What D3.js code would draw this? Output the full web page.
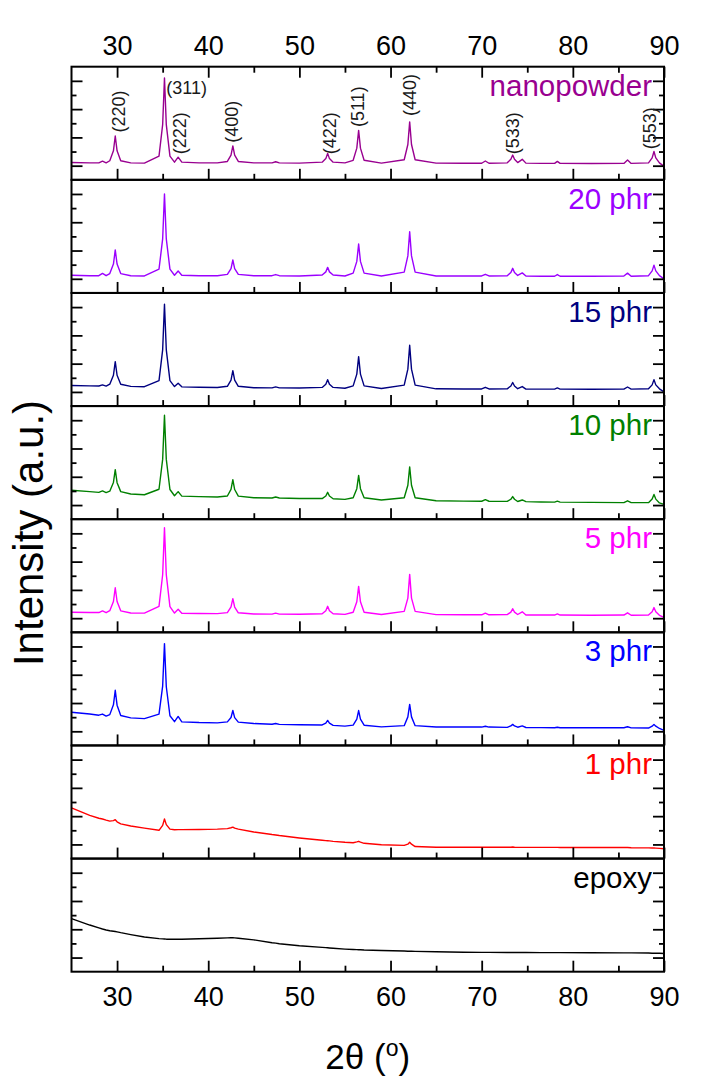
<!DOCTYPE html>
<html>
<head>
<meta charset="utf-8">
<script src="https://cdn.jsdelivr.net/npm/d3@7/dist/d3.min.js"></script>
<style>
  html, body { margin: 0; padding: 0; background: #fff; }
  svg { display: block; font-family: "Liberation Sans", Arial, sans-serif; }
</style>
</head>
<body>
<svg id="chart" width="710" height="1086"></svg>
<script>
// ---------------- DATA ----------------
const twoTheta = [25,27,28,28.4,28.8,29.2,29.6,29.8,30.0,30.4,31.5,33,34.6,35.0,35.2,35.4,35.8,36.3,36.7,37.1,39,41,42.1,42.5,42.7,42.9,43.3,45,47,47.4,47.8,50,52.5,52.9,53.1,53.3,53.7,55,55.9,56.3,56.5,56.7,57.1,59,61.5,61.9,62.1,62.3,62.7,65,68,70,70.4,70.8,72.8,73.2,73.4,73.6,73.95,74.45,74.85,76.5,78,78.3,78.6,82,85.6,86,86.4,88.3,88.7,88.9,89.1,89.5,90];

const nanopowder = [1.22,1.2,1.2,1.32,1.2,1.35,2.05,3.1,2.05,1.35, 1.2,1.18,1.68,3.9,7.2,3.9,1.68,1.25,1.6,1.25, 1.2,1.2,1.3,1.74,2.4,1.74,1.3,1.2,1.2,1.28, 1.2,1.18,1.25,1.5,1.87,1.5,1.25,1.2,1.38,2.24, 3.5,2.24,1.38,1.18,1.42,2.5,4.1,2.5,1.42,1.18, 1.17,1.17,1.33,1.17,1.2,1.45,1.75,1.45,1.22,1.45, 1.18,1.16,1.16,1.3,1.16,1.15,1.16,1.4,1.16,1.2, 1.55,2.0,1.55,1.2,0.95];
const phr20 = [1.25,1.22,1.22,1.38,1.22,1.37,2.04,3.04,2.04,1.37, 1.22,1.2,1.68,3.82,7.0,3.82,1.68,1.25,1.55,1.25, 1.22,1.22,1.31,1.72,2.33,1.72,1.31,1.22,1.22,1.3, 1.22,1.2,1.27,1.49,1.81,1.49,1.27,1.2,1.4,2.23, 3.46,2.23,1.4,1.2,1.47,2.62,4.33,2.62,1.47,1.2, 1.2,1.2,1.32,1.2,1.22,1.45,1.74,1.45,1.24,1.42, 1.2,1.18,1.18,1.3,1.18,1.18,1.2,1.4,1.18,1.22, 1.56,1.97,1.56,1.22,1.0];
const phr15 = [1.45,1.43,1.42,1.5,1.41,1.55,2.18,3.14,2.18,1.54, 1.39,1.37,1.8,3.98,7.2,3.98,1.8,1.38,1.62,1.36, 1.33,1.31,1.4,1.84,2.5,1.84,1.4,1.3,1.29,1.36, 1.29,1.28,1.32,1.54,1.87,1.54,1.32,1.26,1.43,2.26, 3.5,2.26,1.43,1.24,1.48,2.61,4.3,2.61,1.48,1.22, 1.21,1.21,1.33,1.21,1.22,1.42,1.67,1.42,1.23,1.38, 1.2,1.2,1.2,1.28,1.2,1.19,1.2,1.35,1.2,1.22, 1.5,1.87,1.5,1.22,1.0];
const phr10 = [2.05,1.95,1.9,2.0,1.88,1.98,2.6,3.5,2.58,1.95, 1.78,1.73,2.12,4.23,7.35,4.23,2.1,1.66,1.95,1.63, 1.6,1.57,1.64,2.11,2.8,2.1,1.63,1.52,1.5,1.57, 1.5,1.46,1.46,1.64,1.9,1.64,1.45,1.4,1.52,2.16, 3.1,2.16,1.52,1.36,1.52,2.4,3.7,2.4,1.52,1.3, 1.28,1.27,1.38,1.27,1.26,1.41,1.6,1.41,1.25,1.36, 1.24,1.22,1.21,1.28,1.21,1.19,1.17,1.3,1.17,1.17, 1.42,1.75,1.42,1.15,1.05];
const phr5 = [1.42,1.4,1.4,1.52,1.39,1.53,2.18,3.15,2.18,1.52, 1.37,1.36,1.83,4.07,7.4,4.07,1.82,1.36,1.63,1.35, 1.33,1.32,1.39,1.8,2.38,1.79,1.38,1.3,1.29,1.36, 1.29,1.28,1.31,1.53,1.84,1.53,1.31,1.27,1.42,2.16, 3.25,2.16,1.42,1.26,1.48,2.42,4.1,2.42,1.48,1.25, 1.24,1.24,1.36,1.24,1.25,1.43,1.67,1.43,1.26,1.45, 1.23,1.22,1.22,1.3,1.22,1.21,1.22,1.38,1.21,1.22, 1.46,1.75,1.46,1.2,1.05];
const phr3 = [2.35,2.22,2.14,2.22,2.08,2.18,2.87,3.9,2.85,2.12, 1.95,1.9,2.22,4.2,7.2,4.15,2.1,1.68,2.05,1.67, 1.62,1.6,1.67,1.98,2.47,1.97,1.65,1.55,1.5,1.55, 1.49,1.46,1.45,1.58,1.77,1.58,1.42,1.37,1.44,1.86, 2.47,1.86,1.43,1.31,1.4,2.02,2.9,2.02,1.4,1.3, 1.3,1.3,1.36,1.3,1.28,1.38,1.49,1.38,1.29,1.38, 1.27,1.26,1.25,1.29,1.25,1.25,1.25,1.32,1.24,1.23, 1.36,1.49,1.36,1.2,1.06];
const phr1 = [3.58,3.05,2.85,2.8,2.72,2.65,2.68,2.75,2.6,2.45, 2.3,2.15,2.0,2.35,2.8,2.4,2.08,2.04,2.05,2.05, 2.06,2.08,2.12,2.18,2.22,2.15,2.08,1.88,1.7,1.67, 1.63,1.46,1.3,1.27,1.26,1.25,1.22,1.15,1.12,1.18, 1.22,1.16,1.08,0.98,0.93,1.02,1.15,1.02,0.85,0.8, 0.8,0.8,0.8,0.8,0.8,0.8,0.82,0.8,0.79,0.79, 0.79,0.79,0.79,0.79,0.78,0.78,0.78,0.78,0.77,0.76, 0.75,0.75,0.74,0.72,0.69];
const epoxy = [3.75,3.3,3.1,3.02,2.95,2.9,2.86,2.84,2.82,2.76, 2.62,2.45,2.34,2.32,2.31,2.3,2.3,2.29,2.29,2.3, 2.33,2.37,2.39,2.4,2.4,2.39,2.37,2.25,2.05,2.02, 1.98,1.84,1.72,1.7,1.69,1.68,1.66,1.6,1.57,1.56, 1.55,1.55,1.53,1.5,1.46,1.45,1.45,1.45,1.44,1.41, 1.38,1.37,1.37,1.37,1.36,1.36,1.36,1.36,1.36,1.36, 1.36,1.35,1.35,1.35,1.35,1.34,1.33,1.33,1.33,1.32, 1.31,1.31,1.31,1.3,1.29];

const sampleNames = ["nanopowder", "20 phr", "15 phr", "10 phr", "5 phr", "3 phr", "1 phr", "epoxy"];
const sampleValues = [nanopowder, phr20, phr15, phr10, phr5, phr3, phr1, epoxy];

const xMajorTicks = [30, 40, 50, 60, 70, 80, 90];
const xMinorTicks = [35, 45, 55, 65, 75, 85];
const yMajorTicks = [1, 3, 5, 7];
const yMinorTicks = [2, 4, 6];

const hklText  = ["(220)", "(311)", "(222)", "(400)", "(422)", "(511)", "(440)", "(533)", "(553)"];
const hklTheta = [30.2, 35.4, 36.9, 42.65, 53.4, 56.45, 62.1, 73.4, 88.5];
const hklLevel = [4.83, 6.5, 3.29, 4.1, 3.29, 5.17, 6.0, 3.29, 3.64];
const hklRotated = [true, false, true, true, true, true, true, true, true];

// ---------------- STYLE ----------------
const colors = {
  "nanopowder": "#990090",
  "20 phr": "#9b00ff",
  "15 phr": "#000080",
  "10 phr": "#008000",
  "5 phr": "#ff00ff",
  "3 phr": "#0000ff",
  "1 phr": "#ff0000",
  "epoxy": "#000000"
};

const plotLeft = 71.5, plotRight = 664, plotTop = 66.7, plotBottom = 971.7;

const svg = d3.select("#chart");

const x = d3.scaleLinear().domain([25, 90]).range([plotLeft, plotRight]);
const band = d3.scaleBand().domain(sampleNames).range([plotTop, plotBottom]).paddingInner(0);

sampleNames.forEach((name, i) => {
  const y0 = band(name), y1 = y0 + band.bandwidth();
  const y = d3.scaleLinear().domain([0, 8]).range([y1, y0]);
  const g = svg.append("g");

  const pts = twoTheta.map((t, k) => [t, sampleValues[i][k]]);
  g.append("path")
    .datum(pts)
    .attr("fill", "none")
    .attr("stroke", colors[name])
    .attr("stroke-width", 1.4)
    .attr("stroke-linejoin", "round")
    .attr("d", d3.line().x(d => x(d[0])).y(d => y(d[1])));

  const addAxis = (axis, tf) => {
    const a = g.append("g").attr("transform", tf).call(axis);
    a.select(".domain").remove();
    a.selectAll(".tick line").attr("stroke", "#000").attr("stroke-width", 1.8);
    return a;
  };
  const isLast = i === sampleNames.length - 1;
  const bMaj = addAxis(d3.axisBottom(x).tickValues(xMajorTicks).tickSize(-11).tickPadding(15)
      .tickFormat(isLast ? d3.format("d") : ""), `translate(0,${y1})`);
  addAxis(d3.axisBottom(x).tickValues(xMinorTicks).tickSize(-6).tickFormat(""), `translate(0,${y1})`);
  if (isLast) {
    bMaj.selectAll("text").attr("font-size", 27).attr("fill", "#000")
      .attr("font-family", "Liberation Sans, Arial, sans-serif");
  }

  addAxis(d3.axisRight(y).tickValues(yMajorTicks).tickSize(11).tickFormat(""), `translate(${plotLeft},0)`);
  addAxis(d3.axisRight(y).tickValues(yMinorTicks).tickSize(5).tickFormat(""), `translate(${plotLeft},0)`);
  addAxis(d3.axisLeft(y).tickValues(yMajorTicks).tickSize(11).tickFormat(""), `translate(${plotRight},0)`);
  addAxis(d3.axisLeft(y).tickValues(yMinorTicks).tickSize(5).tickFormat(""), `translate(${plotRight},0)`);

  if (i === 0) {
    const tMaj = addAxis(d3.axisTop(x).tickValues(xMajorTicks).tickSize(-11).tickPadding(12)
        .tickFormat(d3.format("d")), `translate(0,${y0})`);
    addAxis(d3.axisTop(x).tickValues(xMinorTicks).tickSize(-6).tickFormat(""), `translate(0,${y0})`);
    tMaj.selectAll("text").attr("font-size", 27).attr("fill", "#000")
      .attr("font-family", "Liberation Sans, Arial, sans-serif");

    hklText.forEach((t, k) => {
      const px = x(hklTheta[k]), py = y(hklLevel[k]);
      const txt = g.append("text")
        .attr("font-size", 18)
        .attr("fill", "#1a1a1a")
        .attr("dominant-baseline", "central")
        .text(t);
      if (hklRotated[k]) {
        txt.attr("text-anchor", "middle")
          .attr("transform", `translate(${px},${py}) rotate(-90)`);
      } else {
        txt.attr("text-anchor", "start").attr("x", px).attr("y", py);
      }
    });
  }

  g.append("text")
    .attr("x", plotRight - 12)
    .attr("y", y0 + 29)
    .attr("text-anchor", "end")
    .attr("font-size", 29.5)
    .attr("fill", colors[name])
    .text(name);

  g.append("rect")
    .attr("x", plotLeft).attr("y", y0)
    .attr("width", plotRight - plotLeft).attr("height", y1 - y0)
    .attr("fill", "none").attr("stroke", "#000").attr("stroke-width", 2);
});

svg.append("text")
  .attr("transform", `translate(43,533) rotate(-90)`)
  .attr("text-anchor", "middle")
  .attr("font-size", 42)
  .text("Intensity (a.u.)");

const xt = svg.append("text")
  .attr("x", x(57.5)).attr("y", 1069)
  .attr("text-anchor", "middle")
  .attr("font-size", 35);
xt.append("tspan").text("2θ (");
xt.append("tspan").attr("font-size", 23).attr("dy", -13).text("o");
xt.append("tspan").attr("dy", 13).text(")");
</script>
</body>
</html>
